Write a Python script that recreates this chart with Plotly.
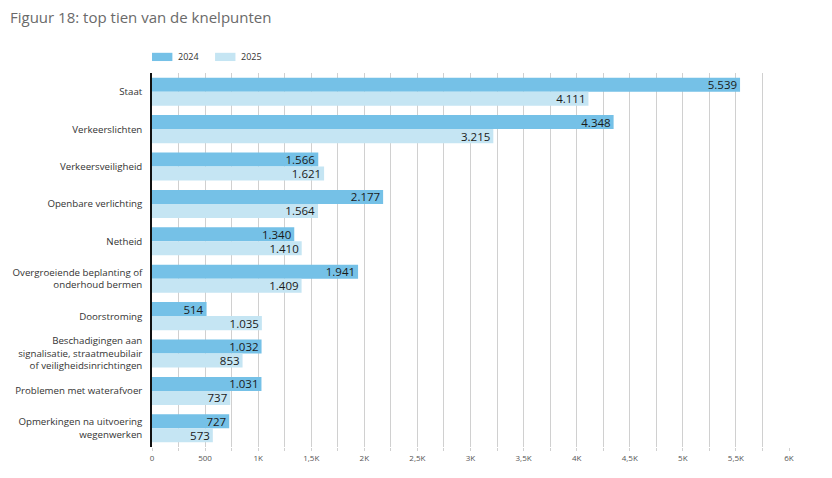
import plotly.graph_objects as go

categories = [
    "Staat",
    "Verkeerslichten",
    "Verkeersveiligheid",
    "Openbare verlichting",
    "Netheid",
    "Overgroeiende beplanting of<br>onderhoud bermen",
    "Doorstroming",
    "Beschadigingen aan<br>signalisatie, straatmeubilair<br>of veiligheidsinrichtingen",
    "Problemen met waterafvoer",
    "Opmerkingen na uitvoering<br>wegenwerken",
]
values_2024 = [5539, 4348, 1566, 2177, 1340, 1941, 514, 1032, 1031, 727]
values_2025 = [4111, 3215, 1621, 1564, 1410, 1409, 1035, 853, 737, 573]
tick_vals = [0, 500, 1000, 1500, 2000, 2500, 3000, 3500, 4000, 4500, 5000, 5500, 6000]
tick_text = ["0", "500", "1K", "1,5K", "2K", "2,5K", "3K", "3,5K", "4K", "4,5K", "5K", "5,5K", "6K"]

c24 = "#75C1E7"
c25 = "#C5E5F3"
font_family = "Open Sans, Noto Sans, sans-serif"


def fmt(v):
    return f"{v:,}".replace(",", ".")


fig = go.Figure()
fig.add_trace(go.Bar(
    y=categories, x=values_2024, orientation="h", name="2024",
    marker=dict(color=c24, line=dict(width=0)),
    text=[fmt(v) for v in values_2024], textposition="inside",
    insidetextanchor="end", textfont=dict(size=11.5, color="#1a1a1a"),
    cliponaxis=False, showlegend=False,
))
fig.add_trace(go.Bar(
    y=categories, x=values_2025, orientation="h", name="2025",
    marker=dict(color=c25, line=dict(width=0)),
    text=[fmt(v) for v in values_2025], textposition="inside",
    insidetextanchor="end", textfont=dict(size=11.5, color="#1a1a1a"),
    cliponaxis=False, showlegend=False,
))

# custom legend (wide swatches)
fig.add_shape(type="rect", xref="paper", yref="paper", x0=0.0, x1=0.032, y0=1.032, y1=1.054,
              fillcolor=c24, line=dict(width=0))
fig.add_annotation(xref="paper", yref="paper", x=0.038, y=1.043, text="2024", showarrow=False,
                   xanchor="left", yanchor="middle", font=dict(size=9, color="#333"))
fig.add_shape(type="rect", xref="paper", yref="paper", x0=0.099, x1=0.131, y0=1.032, y1=1.054,
              fillcolor=c25, line=dict(width=0))
fig.add_annotation(xref="paper", yref="paper", x=0.137, y=1.043, text="2025", showarrow=False,
                   xanchor="left", yanchor="middle", font=dict(size=9, color="#333"))

fig.update_layout(
    width=832, height=478,
    margin=dict(l=152, r=43, t=73, b=31),
    paper_bgcolor="white", plot_bgcolor="white",
    barmode="group", bargap=0.25, bargroupgap=0,
    uniformtext=dict(minsize=8, mode="show"),
    font=dict(family=font_family, color="#333"),
    title=dict(text="Figuur 18: top tien van de knelpunten", x=0, xref="container", xanchor="left",
               y=0.962, yanchor="middle", pad=dict(l=10),
               font=dict(size=15, color="#6a6a6a", family=font_family)),
    xaxis=dict(range=[0, 6000], tickvals=tick_vals, ticktext=tick_text,
               showgrid=True, gridcolor="#d0d0d0", gridwidth=1,
               minor=dict(dtick=250, showgrid=True, gridcolor="#d0d0d0", ticks="outside",
                          ticklen=3, tickcolor="#d0d0d0"),
               ticks="outside", ticklen=3, tickcolor="#d0d0d0", automargin=False,
               tickfont=dict(size=8, color="#555"), zeroline=False, showline=False),
    yaxis=dict(autorange="reversed", tickfont=dict(size=9.7, color="#333"), automargin=False,
               showline=True, linecolor="#111", linewidth=1.5, ticks="", ticklabelstandoff=6,
               showgrid=False),
)

fig.write_html("out.html")
